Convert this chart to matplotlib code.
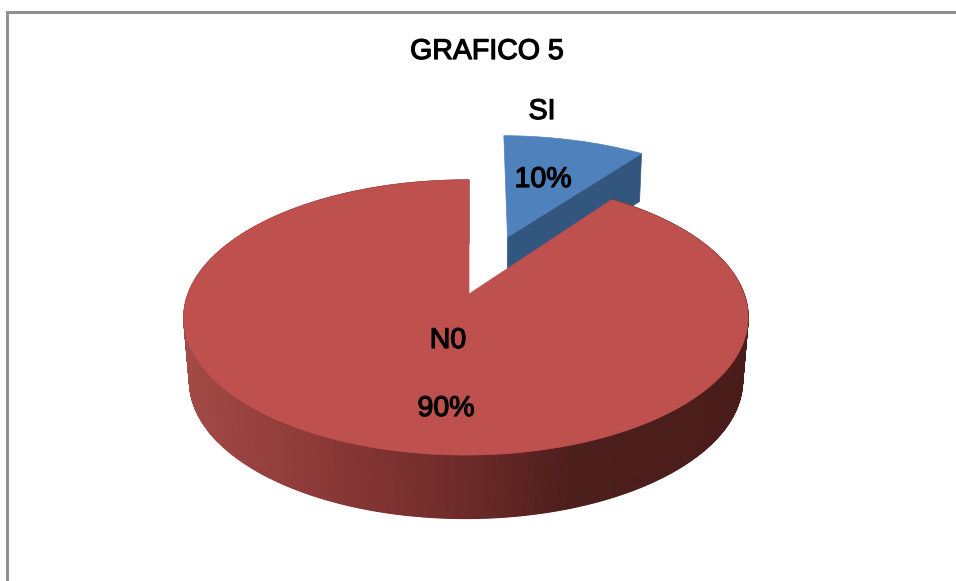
import numpy as np
import matplotlib
matplotlib.use("Agg")
import matplotlib.pyplot as plt
from matplotlib.colors import to_rgb
import matplotlib.patheffects as pe

# --- data ---
categories = ["SI", "N0"]
values = [10, 90]
title = "GRAFICO 5"

# --- style / projection constants (pixel frame) ---
W, H = 956, 581
CX, CY = 469.0, 294.0
RX, RY = 278.0, 133.5
P_V, P_U = 0.171, 0.0106
EXPLODE = 0.484
EXPL_SCALE, EXPL_NUDGE = 1.03, 0.008
SHRINK = 0.98
DEPTH_MAIN, DEPTH_EXPL = 63.5, 48.0
FONT_PX = 28.5
TOP = {"SI": "#4F81BD", "N0": "#BE504D"}
SIDE_SI = "#33567F"
GRAD_X = [190, 330, 470, 570, 745]
GRAD_C = ["#A24A46", "#8A3836", "#6B2A28", "#4C1E1C", "#4A1D1B"]

plt.rcParams["font.family"] = ["Liberation Sans", "DejaVu Sans"]
fig = plt.figure(figsize=(W / 100, H / 100), dpi=100, facecolor="white")
ax = fig.add_axes([0, 0, 1, 1])
ax.set_xlim(0, W)
ax.set_ylim(H, 0)
ax.axis("off")


def project(u, v):
    w = 1 + P_V * v + P_U * u
    return CX + RX * u / w, CY - RY * v / w


def drop(x, y, depth):
    return CX + (x - CX) * SHRINK, y + depth


total = sum(values)
theta_end = 2 * np.pi * values[0] / total

# exploded slice (SI): starts at 12 o'clock, clockwise
mid = theta_end / 2
ou, ov = EXPLODE * np.sin(mid), EXPLODE * np.cos(mid)
t = np.linspace(0, theta_end, 60)
xa, ya = project(ou + EXPL_NUDGE + EXPL_SCALE * np.sin(t), ov + EXPL_SCALE * np.cos(t))
x0, y0 = project(ou, ov)
x_edge, y_edge = xa[-1], ya[-1]
xb0, yb0 = x0, y0 + DEPTH_EXPL
xb1, yb1 = x_edge - 2, y_edge + DEPTH_EXPL
ax.fill([x0, x_edge, xb1, xb0], [y0, y_edge, yb1, yb0], color=SIDE_SI, lw=0.5, zorder=2)
ax.fill(np.r_[x0, xa], np.r_[y0, ya], color=TOP["SI"], lw=0.5, zorder=3)

# main slice (N0) rim with a horizontal gradient
t = np.linspace(theta_end, 2 * np.pi, 700)
xr, yr = project(np.sin(t), np.cos(t))
xd, yd = drop(xr, yr, DEPTH_MAIN)
gc = np.array([to_rgb(c) for c in GRAD_C])
for i in range(len(t) - 1):
    xm = 0.5 * (xd[i] + xd[i + 1])
    col = [np.interp(xm, GRAD_X, gc[:, k]) for k in range(3)]
    ax.fill([xr[i], xr[i + 1], xd[i + 1], xd[i]], [yr[i], yr[i + 1], yd[i + 1], yd[i]],
            color=col, lw=0.8, zorder=4)

# main slice top face
ax.fill(np.r_[CX, xr], np.r_[CY, yr], color=TOP["N0"], lw=0.5, zorder=5)

# frame
ax.plot([7.5, 7.5, W + 5], [H + 5, 11.5, 11.5], color="#8E8E8E", lw=2.1,
        solid_joinstyle="miter", zorder=1)

# text
halo = [pe.withStroke(linewidth=0.9, foreground="black")]
fs = FONT_PX * 72 / 100
kw = dict(ha="center", va="center", fontsize=fs, color="black", zorder=10, path_effects=halo)
pct = [f"{round(100 * v / total)}%" for v in values]
ax.text(487, 51, title, **kw)
ax.text(542, 111, categories[0], **kw)
ax.text(543, 179, pct[0], **kw)
ax.text(448, 340, categories[1], **kw)
ax.text(446, 408, pct[1], **kw)

fig.savefig("out.png", dpi=100, facecolor="white")
